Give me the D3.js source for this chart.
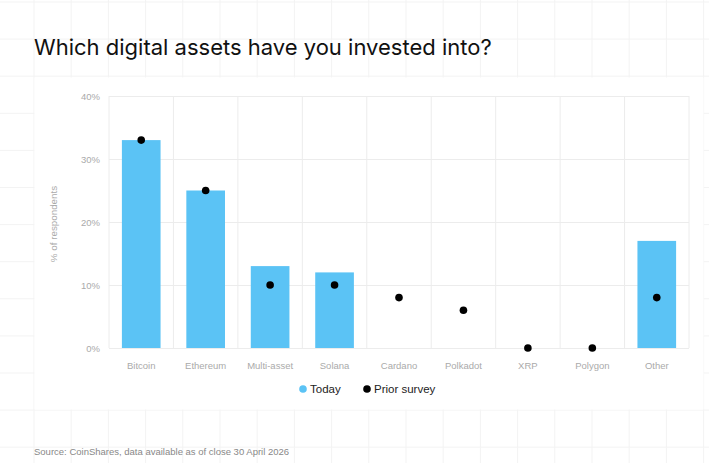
<!DOCTYPE html>
<html>
<head>
<meta charset="utf-8">
<script src="https://cdn.jsdelivr.net/npm/d3@7"></script>
<style>
  html, body { margin: 0; padding: 0; background: #fff; }
  svg { display: block; }
</style>
</head>
<body>
<div id="chart"></div>
<script>
// ===============================
// DATA
// ===============================
const categories = ["Bitcoin", "Ethereum", "Multi-asset", "Solana", "Cardano", "Polkadot", "XRP", "Polygon", "Other"];
const today = [33, 25, 13, 12, 0, 0, 0, 0, 17];
const priorSurvey = [33, 25, 10, 10, 8, 6, 0, 0, 8];
const yTicks = [0, 10, 20, 30, 40];

// ===============================
// DIMENSIONS
// ===============================
const W = 709, H = 463;
const margin = { top: 96, right: 20, bottom: 115, left: 109 };
const width = W - margin.left - margin.right;
const height = H - margin.top - margin.bottom;

const svg = d3.select("#chart").append("svg")
  .attr("width", W)
  .attr("height", H);

// ===============================
// BACKGROUND GRID + CARD
// ===============================
const bg = svg.append("g");
const gx = d3.range(34 - 37.2, W + 1, 37.2);
const gy = d3.range(2, H + 1, 37.1);

bg.selectAll(".bgv").data(gx).join("line")
  .attr("x1", d => d).attr("x2", d => d)
  .attr("y1", 0).attr("y2", H)
  .attr("stroke", "#f3f3f3");

bg.selectAll(".bgh").data(gy).join("line")
  .attr("y1", d => d).attr("y2", d => d)
  .attr("x1", 0).attr("x2", W)
  .attr("stroke", "#f3f3f3");

// card hides the grid behind the plot
bg.append("rect")
  .attr("x", 34.5).attr("y", 77.5)
  .attr("width", 669).attr("height", 332)
  .attr("fill", "#fff");

// ===============================
// TITLE
// ===============================
svg.append("text")
  .attr("x", 34)
  .attr("y", 55)
  .attr("font-family", "Inter, 'Liberation Sans', sans-serif")
  .attr("font-size", "22px")
  .attr("fill", "#111")
  .text("Which digital assets have you invested into?");

const g = svg.append("g")
  .attr("transform", `translate(${margin.left},${margin.top})`);

// ===============================
// SCALES
// ===============================
const x = d3.scaleBand()
  .domain(categories)
  .range([0, width])
  .paddingInner(0.4)
  .paddingOuter(0.2);

const y = d3.scaleLinear()
  .domain([0, 40])
  .range([height, 0]);

// ===============================
// PLOT GRID
// ===============================
const step = x.step();
const bounds = categories.map(c => x(c) - step * 0.2).concat([width]);

g.selectAll(".vgrid").data(bounds).join("line")
  .attr("x1", d => d).attr("x2", d => d)
  .attr("y1", 0).attr("y2", height)
  .attr("stroke", "#ececec");

g.append("g")
  .call(d3.axisLeft(y).tickValues(yTicks).tickSize(-width).tickFormat(d => d + "%"))
  .call(a => a.select(".domain").remove())
  .call(a => a.selectAll(".tick line").attr("stroke", "#ececec"))
  .call(a => a.selectAll(".tick text")
    .attr("x", -9)
    .attr("fill", "#aaa")
    .attr("font-family", "'Liberation Sans', Arial, sans-serif")
    .attr("font-size", "9.5px"));

g.append("g")
  .attr("transform", `translate(0,${height})`)
  .call(d3.axisBottom(x).tickSize(0).tickPadding(14))
  .call(a => a.select(".domain").remove())
  .call(a => a.selectAll(".tick text")
    .attr("fill", "#aaa")
    .attr("font-family", "'Liberation Sans', Arial, sans-serif")
    .attr("font-size", "9.5px"));

g.append("text")
  .attr("transform", "rotate(-90)")
  .attr("x", -height / 2 - 2)
  .attr("y", -52)
  .attr("text-anchor", "middle")
  .attr("fill", "#aaa")
  .attr("font-family", "'Liberation Sans', Arial, sans-serif")
  .attr("font-size", "9.8px")
  .text("% of respondents");

// ===============================
// BARS + DOTS
// ===============================
const rows = categories.map((c, i) => ({ cat: c, today: today[i], prior: priorSurvey[i] }));

g.selectAll(".bar").data(rows.filter(d => d.today > 0)).join("rect")
  .attr("x", d => x(d.cat))
  .attr("y", d => y(d.today))
  .attr("width", x.bandwidth())
  .attr("height", d => height - y(d.today))
  .attr("fill", "#5bc3f5");

g.selectAll(".dot").data(rows).join("circle")
  .attr("cx", d => x(d.cat) + x.bandwidth() / 2)
  .attr("cy", d => y(d.prior))
  .attr("r", 3.8)
  .attr("fill", "#000");

// ===============================
// LEGEND
// ===============================
const legendItems = [
  { label: "Today", color: "#5bc3f5", x: 303 },
  { label: "Prior survey", color: "#000", x: 367 }
];

const legend = svg.selectAll(".legend").data(legendItems).join("g")
  .attr("transform", d => `translate(${d.x},389)`);

legend.append("circle")
  .attr("r", 3.8)
  .attr("fill", d => d.color);

legend.append("text")
  .attr("x", 7)
  .attr("dy", "0.35em")
  .attr("fill", "#222")
  .attr("font-family", "'Liberation Sans', Arial, sans-serif")
  .attr("font-size", "11.5px")
  .text(d => d.label);

// ===============================
// SOURCE
// ===============================
svg.append("text")
  .attr("x", 34)
  .attr("y", 455)
  .attr("fill", "#888")
  .attr("font-family", "'Liberation Sans', Arial, sans-serif")
  .attr("font-size", "9.5px")
  .text("Source: CoinShares, data available as of close 30 April 2026");
</script>
</body>
</html>
